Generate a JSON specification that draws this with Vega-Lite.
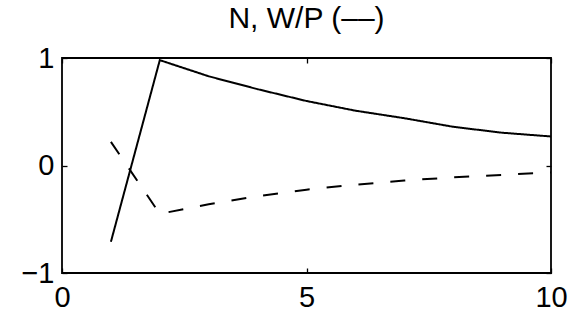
{
  "$schema": "https://vega.github.io/schema/vega-lite/v6.json",
  "autosize": {"type": "none"},
  "width": 489,
  "height": 215,
  "padding": {"left": 62, "top": 58, "right": 27, "bottom": 53},
  "background": "white",
  "title": {
    "text": "N, W/P (––)",
    "font": "Liberation Sans",
    "fontSize": 30,
    "fontWeight": "normal",
    "color": "black",
    "baseline": "alphabetic",
    "offset": -8,
    "dy": 6,
    "anchor": "middle"
  },
  "config": {
    "view": {"stroke": "black", "strokeWidth": 1.8},
    "axis": {
      "domain": false,
      "grid": false,
      "ticks": true,
      "tickColor": "black",
      "tickWidth": 1.3,
      "tickSize": 5,
      "offset": -5,
      "labelFont": "Liberation Sans",
      "labelFontSize": 29,
      "labelColor": "black",
      "labelFlush": false,
      "labelOverlap": false
    }
  },
  "data": {
    "values": [
      {"x": 1, "v": -0.71, "s": "N"},
      {"x": 2, "v": 0.98, "s": "N"},
      {"x": 3, "v": 0.83, "s": "N"},
      {"x": 4, "v": 0.71, "s": "N"},
      {"x": 5, "v": 0.6, "s": "N"},
      {"x": 6, "v": 0.51, "s": "N"},
      {"x": 7, "v": 0.44, "s": "N"},
      {"x": 8, "v": 0.36, "s": "N"},
      {"x": 9, "v": 0.305, "s": "N"},
      {"x": 10, "v": 0.27, "s": "N"},
      {"x": 1, "v": 0.22, "s": "W/P"},
      {"x": 2, "v": -0.45, "s": "W/P"},
      {"x": 3, "v": -0.36, "s": "W/P"},
      {"x": 4, "v": -0.285, "s": "W/P"},
      {"x": 5, "v": -0.225, "s": "W/P"},
      {"x": 6, "v": -0.178, "s": "W/P"},
      {"x": 7, "v": -0.14, "s": "W/P"},
      {"x": 8, "v": -0.11, "s": "W/P"},
      {"x": 9, "v": -0.087, "s": "W/P"},
      {"x": 10, "v": -0.065, "s": "W/P"}
    ]
  },
  "resolve": {"axis": {"x": "independent", "y": "independent"}},
  "layer": [
    {
      "mark": {"type": "line", "color": "black", "strokeWidth": 2},
      "encoding": {
        "x": {"field": "x", "type": "quantitative", "title": null, "scale": {"domain": [0, 10], "nice": false},
              "axis": {"orient": "bottom", "values": [0, 5, 10], "format": "~f", "labelPadding": 10, "labelBaseline": "top", "title": null}},
        "y": {"field": "v", "type": "quantitative", "title": null, "scale": {"domain": [-1, 1], "nice": false},
              "axis": {"orient": "left", "values": [-1, 0, 1], "format": "~f", "labelPadding": 8, "title": null}},
        "strokeDash": {"field": "s", "type": "nominal", "legend": null,
                       "scale": {"domain": ["N", "W/P"], "range": [[1, 0], [15, 17]]}}
      }
    },
    {
      "mark": {"type": "line", "opacity": 0},
      "encoding": {
        "x": {"field": "x", "type": "quantitative", "title": null, "scale": {"domain": [0, 10], "nice": false},
              "axis": {"orient": "top", "values": [0, 5, 10], "labels": false, "title": null}},
        "y": {"field": "v", "type": "quantitative", "title": null, "scale": {"domain": [-1, 1], "nice": false},
              "axis": {"orient": "right", "values": [-1, 0, 1], "labels": false, "title": null}},
        "detail": {"field": "s", "type": "nominal"}
      }
    }
  ]
}
